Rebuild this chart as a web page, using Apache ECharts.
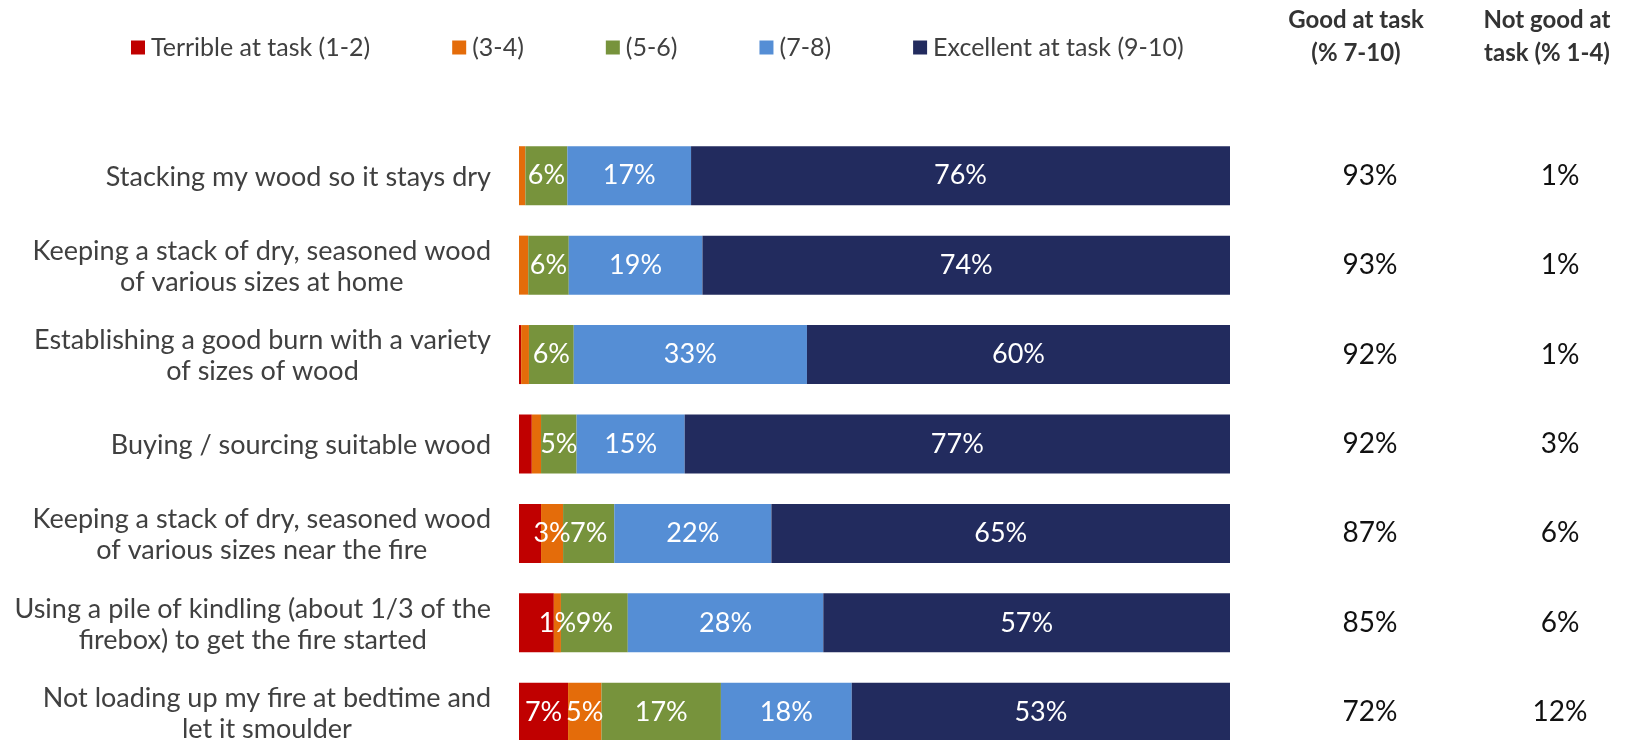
<!DOCTYPE html>
<html>
<head>
<meta charset="utf-8">
<script src="https://cdn.jsdelivr.net/npm/echarts@6/dist/echarts.min.js"></script>
<style>
  html, body { margin: 0; padding: 0; background: #fff; }
  #chart { width: 1626px; height: 740px; }
</style>
</head>
<body>
<div id="chart"></div>
<script>
const categories = [
  'Stacking my wood so it stays dry',
  'Keeping a stack of dry, seasoned wood\nof various sizes at home',
  'Establishing a good burn with a variety\nof sizes of wood',
  'Buying / sourcing suitable wood',
  'Keeping a stack of dry, seasoned wood\nof various sizes near the fire',
  'Using a pile of kindling (about 1/3 of the\nfirebox) to get the fire started',
  'Not loading up my fire at bedtime and\nlet it smoulder'
]

const seriesNames = ['Terrible at task (1-2)', '(3-4)', '(5-6)', '(7-8)', 'Excellent at task (9-10)']
const terrible = [0, 0, 0.3, 1.8, 3.1, 4.9, 6.9]
const poor = [0.9, 1.3, 1.1, 1.3, 3.1, 1.0, 4.7]
const middle = [5.9, 5.7, 6.3, 5.0, 7.2, 9.4, 16.8]
const good = [17.4, 18.8, 32.8, 15.2, 22.1, 27.5, 18.4]
const excellent = [75.8, 74.2, 59.5, 76.7, 64.5, 57.2, 53.2]

// which bars carry a value label, per series
const labelled = [
  [false, false, false, false, false, false, true],
  [false, false, false, false, true, true, true],
  [true, true, true, true, true, true, true],
  [true, true, true, true, true, true, true],
  [true, true, true, true, true, true, true]
]

const goodAtTask = ['93%', '93%', '92%', '92%', '87%', '85%', '72%']
const notGoodAtTask = ['1%', '1%', '1%', '3%', '6%', '6%', '12%']

const colors = ['#C00000', '#E46C0A', '#77933C', '#558ED5', '#222B5E']
const font = 'Lato'

const chart = echarts.init(document.getElementById('chart'))

const seriesData = [terrible, poor, middle, good, excellent]

const headStyle = { fontFamily: font, fontSize: 24, fontWeight: 'bold', color: '#333', lineHeight: 33 }

const option = {
  animation: false,
  color: colors,
  textStyle: { fontFamily: font },
  title: [
    {
      text: 'Good at task\n(% 7-10)',
      left: 1356,
      top: 4,
      padding: 0,
      textAlign: 'center',
      textStyle: headStyle
    },
    {
      text: 'Not good at\ntask (% 1-4)',
      left: 1547,
      top: 4,
      padding: 0,
      textAlign: 'center',
      textStyle: headStyle
    }
  ],
  legend: {
    left: 131,
    top: 35,
    padding: 0,
    icon: 'rect',
    itemWidth: 14,
    itemHeight: 14,
    itemGap: 82,
    data: seriesNames,
    textStyle: { fontFamily: font, fontSize: 25, color: '#404040', padding: [0, 0, 0, 1] }
  },
  grid: {
    left: 519,
    right: 396,
    top: 131,
    height: 626,
    outerBoundsMode: 'none'
  },
  xAxis: {
    type: 'value',
    min: 0,
    max: 100,
    show: false
  },
  yAxis: [
    {
      type: 'category',
      inverse: true,
      data: categories,
      axisLine: { show: false },
      axisTick: { show: false },
      axisLabel: {
        margin: 28,
        formatter: v => v.split('\n').map(l => '{a|' + l + '}').join('\n'),
        rich: {
          a: { align: 'center', fontFamily: font, fontSize: 27, color: '#404040', lineHeight: 31, padding: [3, 0, 0, 0] }
        }
      }
    },
    {
      type: 'category',
      inverse: true,
      position: 'right',
      data: goodAtTask,
      axisLine: { show: false },
      axisTick: { show: false },
      axisLabel: { align: 'center', margin: 140, fontFamily: font, fontSize: 28, color: '#111' }
    },
    {
      type: 'category',
      inverse: true,
      position: 'right',
      data: notGoodAtTask,
      axisLine: { show: false },
      axisTick: { show: false },
      axisLabel: { align: 'center', margin: 330, fontFamily: font, fontSize: 28, color: '#111' }
    }
  ],
  series: seriesNames.map((name, i) => ({
    name: name,
    type: 'bar',
    stack: 'total',
    barWidth: 59,
    yAxisIndex: 0,
    label: {
      show: true,
      position: 'inside',
      color: '#fff',
      fontFamily: font,
      fontSize: 27,
      formatter: p => labelled[i][p.dataIndex] ? Math.round(p.value) + '%' : ''
    },
    data: seriesData[i]
  }))
}

chart.setOption(option)

window.addEventListener('resize', () => {
  chart.resize()
})
</script>
</body>
</html>
